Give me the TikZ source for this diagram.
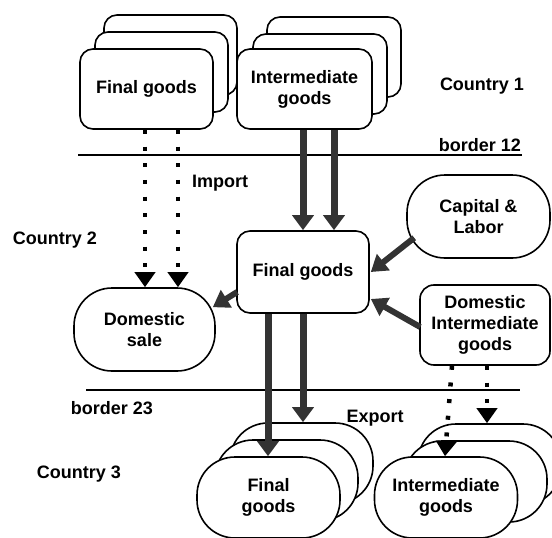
\documentclass[tikz,border=0pt]{standalone}
\usepackage{fontspec}
\setmainfont{Liberation Sans}
\usetikzlibrary{arrows.meta}
\newcommand\lblfont{\fontsize{18}{21}\selectfont\bfseries}
\begin{document}
\begin{tikzpicture}[x=1pt,y=-1pt,
  box/.style={draw, line width=1.6pt, rounded corners=13pt, fill=white,
    minimum width=133pt, minimum height=80pt, inner sep=0pt, align=center, font=\lblfont},
  oval/.style={box, rounded corners=38pt, minimum width=143pt, minimum height=81pt},
  lbl/.style={inner sep=0pt, font=\lblfont},
  dotarrow/.style={line width=4.5pt, dash pattern=on 4pt off 12.7pt, black,
    -{Triangle[width=20pt,length=15pt]}},
  thickarrow/.style={line width=7pt, black!80, -{Triangle[width=21pt,length=15pt]}},
  diagarrow/.style={line width=6pt, black!80, -{Triangle[width=20pt,length=16pt]}},
  borderline/.style={line width=1.8pt}]
\useasboundingbox (0,0) rectangle (552,538);
% top stacks
\node[box] (fgb) at (170.5,55) {};
\node[box] (fgm) at (161.5,72) {};
\node[box] (fg1) at (146.5,89) {Final goods};
\node[box, minimum width=134pt] (igb) at (334,57) {};
\node[box, minimum width=134pt] (igm) at (320,74) {};
\node[box, minimum width=135pt] (ig1) at (304.5,89) {Intermediate\\goods};
\node[lbl] (c1) at (482,86) {Country 1};
% border 12
\coordinate (b12l) at (78,155);
\coordinate (b12r) at (522,155);
\draw[borderline] (b12l) -- (b12r);
\node[lbl] (b12) at (480,145) {border 12};
\node[lbl] (imp) at (220,183) {Import};
\node[lbl] (c2) at (55,240) {Country 2};
% country 2
\node[box, minimum width=132pt, minimum height=82pt] (fg2) at (303,272) {Final goods};
\node[oval, minimum height=83pt] (cap) at (478.5,216.5) {Capital \&\\Labor};
\node[box, minimum width=130pt, rounded corners=14pt] (dig) at (485,325) {Domestic\\Intermediate\\goods};
\node[oval, minimum width=141pt, minimum height=83pt] (ds) at (144.5,329.5) {Domestic\\sale};
% border 23
\coordinate (b23l) at (86,390);
\coordinate (b23r) at (520,390);
\draw[borderline] (b23l) -- (b23r);
\node[lbl] (b23) at (112,408) {border 23};
\node[lbl] (exp) at (375,418) {Export};
\node[lbl] (c3) at (79,474) {Country 3};
% bottom stacks
\node[oval] (bfb) at (301.5,463.5) {};
\node[oval] (bfm) at (286.5,480.5) {};
\node[oval] (bf1) at (268.5,497.5) {Final\\goods};
\node[oval] (bib) at (489.5,464.5) {};
\node[oval] (bim) at (475.5,481.5) {};
\node[oval] (bi1) at (446,497.5) {Intermediate\\goods};
% import arrows
\draw[dotarrow] ([xshift=-1.5pt]fg1.south) -- ([xshift=-1.5pt]fg1.south |- ds.north);
\draw[dotarrow] ([xshift=31.5pt]fg1.south) -- ([xshift=31.5pt]fg1.south |- ds.north);
% intermediate imports
\draw[thickarrow] ([xshift=-1.5pt]ig1.south) -- ([xshift=-1.5pt]ig1.south |- fg2.north);
\draw[thickarrow] ([xshift=29.5pt]ig1.south) -- ([xshift=29.5pt]ig1.south |- fg2.north);
% exports
\draw[thickarrow] ([xshift=-35pt]fg2.south) -- ([xshift=-35pt]fg2.south |- bf1.north);
\draw[thickarrow] (fg2.south) -- (fg2.south |- bfb.north);
\draw[dotarrow] ([xshift=-33pt]dig.south) -- ([xshift=-1pt]bi1.north);
\draw[dotarrow] ([xshift=2pt]dig.south) -- ([xshift=2pt]dig.south |- bib.north);
% domestic flows
\draw[diagarrow] ([shift={(1,20)}]fg2.west) -- ([shift={(-3,20)}]ds.north east);
\draw[diagarrow] ([shift={(8,-21)}]cap.south west) -- ([shift={(1,0)}]fg2.east);
\draw[diagarrow] ([shift={(1,2)}]dig.west) -- ([shift={(1,27)}]fg2.east);
\end{tikzpicture}
\end{document}
